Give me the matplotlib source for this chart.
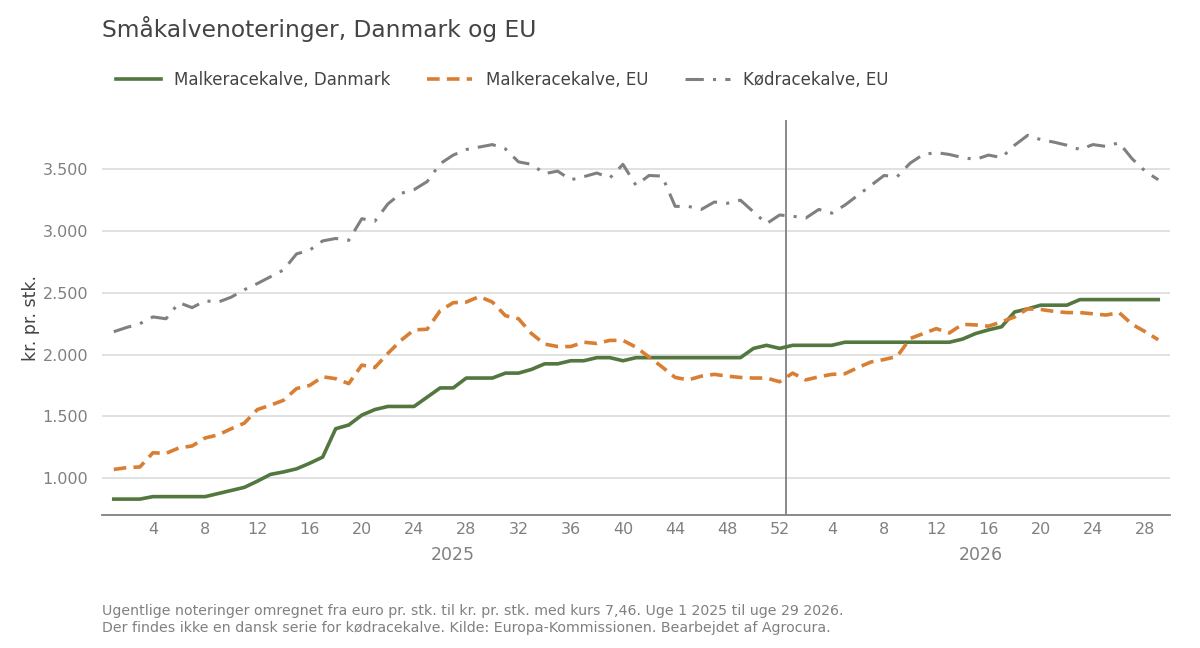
import matplotlib
matplotlib.use("Agg")
import matplotlib.pyplot as plt
from matplotlib.ticker import FuncFormatter

# uge 1 2025 .. uge 29 2026
weeks_2025 = list(range(1, 53))
weeks_2026 = list(range(1, 30))

malk_dk = [830, 830, 830, 850, 850, 850, 850, 850, 875, 900,
           925, 975, 1030, 1050, 1075, 1120, 1170, 1400, 1430, 1510,
           1555, 1580, 1580, 1580, 1655, 1730, 1730, 1810, 1810, 1810,
           1850, 1850, 1880, 1925, 1925, 1950, 1950, 1975, 1975, 1950,
           1975, 1975, 1975, 1975, 1975, 1975, 1975, 1975, 1975, 2050,
           2075, 2050,
           2075, 2075, 2075, 2075, 2100, 2100, 2100, 2100, 2100, 2100,
           2100, 2100, 2100, 2125, 2170, 2200, 2225, 2345, 2370, 2400,
           2400, 2400, 2445, 2445, 2445, 2445, 2445, 2445, 2445]

malk_eu = [1070, 1085, 1090, 1205, 1200, 1245, 1260, 1325, 1350, 1400,
           1445, 1555, 1590, 1630, 1725, 1750, 1820, 1805, 1765, 1915,
           1895, 2010, 2115, 2200, 2205, 2355, 2420, 2425, 2470, 2425,
           2315, 2290, 2170, 2085, 2065, 2065, 2100, 2090, 2115, 2115,
           2060, 1980, 1900, 1815, 1795, 1825, 1840, 1825, 1815, 1810,
           1810, 1780,
           1850, 1795, 1820, 1840, 1845, 1895, 1940, 1960, 1985, 2130,
           2170, 2210, 2175, 2245, 2240, 2230, 2265, 2305, 2370, 2365,
           2350, 2340, 2340, 2330, 2320, 2340, 2245, 2185, 2120]

koed_eu = [2185, 2220, 2250, 2305, 2290, 2420, 2380, 2435, 2425, 2465,
           2525, 2575, 2630, 2685, 2815, 2845, 2920, 2940, 2925, 3100,
           3080, 3220, 3305, 3335, 3400, 3545, 3615, 3660, 3680, 3700,
           3665, 3560, 3540, 3465, 3485, 3415, 3440, 3470, 3430, 3540,
           3370, 3450, 3445, 3200, 3200, 3175, 3235, 3225, 3250, 3155,
           3060, 3130,
           3120, 3105, 3175, 3145, 3210, 3290, 3370, 3450, 3440, 3550,
           3620, 3635, 3620, 3595, 3580, 3615, 3595, 3695, 3775, 3740,
           3720, 3695, 3660, 3700, 3685, 3715, 3585, 3485, 3415]

x = list(range(1, len(weeks_2025) + len(weeks_2026) + 1))
week_labels = weeks_2025 + weeks_2026

plt.rcParams['font.family'] = ['DejaVu Sans']
fig = plt.figure(figsize=(12, 6.48), dpi=100)
ax = fig.add_axes([0.085, 0.205, 0.89, 0.61])

ax.plot(x, malk_dk, color='#52773f', lw=2.6, label='Malkeracekalve, Danmark')
ax.plot(x, malk_eu, color='#d97f34', lw=2.6, ls=(0, (3.5, 2)),
        label='Malkeracekalve, EU')
ax.plot(x, koed_eu, color='#808080', lw=2.2, ls=(0, (6, 3, 1, 3)),
        label='Kødracekalve, EU')

ax.axvline(len(weeks_2025) + 0.5, color='#808080', lw=1.3, zorder=1)

ax.set_xlim(0.1, 81.9)
ax.set_ylim(700, 3900)
ax.set_yticks([1000, 1500, 2000, 2500, 3000, 3500])
ax.yaxis.set_major_formatter(FuncFormatter(lambda v, p: f'{int(v):,}'.replace(',', '.')))
ticks = [p for p, w in zip(x, week_labels) if w % 4 == 0]
ax.set_xticks(ticks)
ax.set_xticklabels([str(week_labels[p - 1]) for p in ticks])
ax.grid(axis='y', color='#d9d9d9', lw=1.1)
ax.set_axisbelow(True)
for s in ['left', 'right', 'top']:
    ax.spines[s].set_visible(False)
ax.spines['bottom'].set_color('#808080')
ax.spines['bottom'].set_linewidth(1.3)
ax.tick_params(axis='both', length=0, labelsize=11.5, colors='#808080', pad=5)
ax.tick_params(axis='y', pad=10)

ax.text(27, -0.1, '2025', transform=ax.get_xaxis_transform(), ha='center',
        va='center', fontsize=12.5, color='#808080')
ax.text(67.4, -0.1, '2026', transform=ax.get_xaxis_transform(), ha='center',
        va='center', fontsize=12.5, color='#808080')

ax.set_ylabel('kr. pr. stk.', fontsize=12.5, color='#444444', labelpad=0)
ax.yaxis.set_label_coords(-0.058, 0.5)

fig.text(0.085, 0.955, 'Småkalvenoteringer, Danmark og EU', fontsize=16.8,
         color='#444444', va='center')
fig.legend(loc='center left', bbox_to_anchor=(0.084, 0.877), ncol=3,
           frameon=False, fontsize=12, labelcolor='#444444',
           handlelength=2.7, columnspacing=2.2, handletextpad=0.8)

fig.text(0.085, 0.044, 'Ugentlige noteringer omregnet fra euro pr. stk. til kr. pr. stk. '
         'med kurs 7,46. Uge 1 2025 til uge 29 2026.\n'
         'Der findes ikke en dansk serie for kødracekalve. Kilde: Europa-Kommissionen. '
         'Bearbejdet af Agrocura.',
         fontsize=10.2, color='#808080', va='center', linespacing=1.25)

fig.savefig('out.png', dpi=100)
